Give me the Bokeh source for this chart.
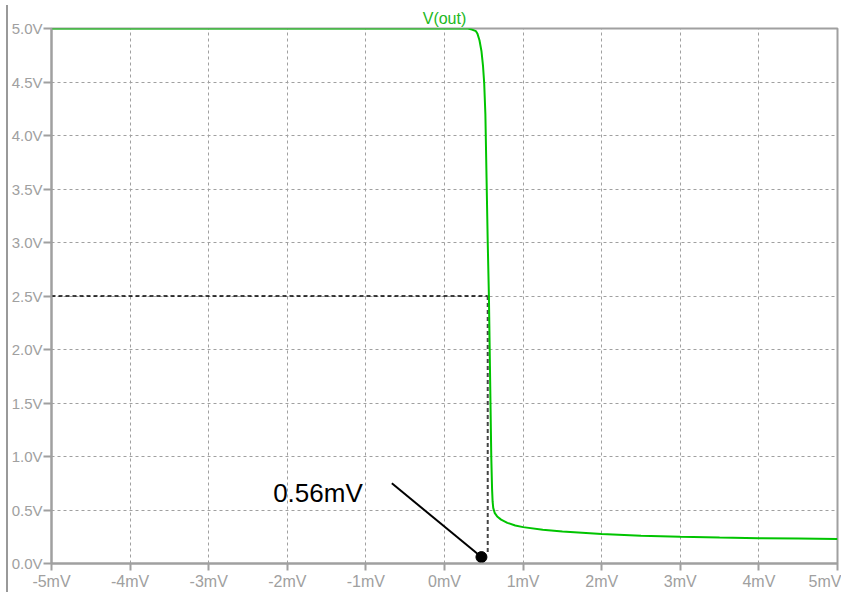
from bokeh.plotting import figure
from bokeh.models import Range1d, FixedTicker, Label
from bokeh.embed import file_html
from bokeh.resources import INLINE

# ---- data ----
vin_mv = [-5.0, -2.0, 0.0, 0.30, 0.35, 0.40, 0.42, 0.445, 0.47, 0.49, 0.505, 0.52,
          0.535, 0.55, 0.565, 0.575, 0.585, 0.595, 0.605, 0.612, 0.62, 0.64, 0.67,
          0.72, 0.80, 0.90, 1.0, 1.25, 1.5, 2.0, 2.5, 3.0, 3.5, 4.0, 4.5, 5.0]
vout_v = [5.0, 5.0, 5.0, 5.0, 4.99, 4.975, 4.95, 4.89, 4.79, 4.65, 4.49, 4.2,
          3.6, 3.0, 2.5, 2.0, 1.5, 1.0, 0.7, 0.58, 0.52, 0.47, 0.44,
          0.41, 0.38, 0.355, 0.34, 0.315, 0.30, 0.275, 0.26, 0.25, 0.243, 0.237, 0.233, 0.23]

x_ticks = [-5, -4, -3, -2, -1, 0, 1, 2, 3, 4, 5]
x_labels = ["-5mV", "-4mV", "-3mV", "-2mV", "-1mV", "0mV", "1mV", "2mV", "3mV", "4mV", "5mV"]
y_ticks = [0.0, 0.5, 1.0, 1.5, 2.0, 2.5, 3.0, 3.5, 4.0, 4.5, 5.0]
y_labels = ["0.0V", "0.5V", "1.0V", "1.5V", "2.0V", "2.5V", "3.0V", "3.5V", "4.0V", "4.5V", "5.0V"]

trace_name = "V(out)"
half_level = 2.5
cross_mv = 0.55
marker_x = [0.47]
marker_y = [0.06]
pointer_x = [-0.67, 0.47]
pointer_y = [0.75, 0.06]
note_text = "0.56mV"
note_x = -2.18
note_y = 0.66

GRAY = "#a0a0a0"
GREEN = "#00c400"
FONT = "Liberation Sans"

p = figure(frame_width=786, frame_height=535, output_backend="svg",
           toolbar_location=None,
           x_range=Range1d(-5, 5), y_range=Range1d(0, 5),
           min_border_left=39, min_border_right=4, min_border_top=20, min_border_bottom=5,
           background_fill_color="white", border_fill_color="white")
p.styles = {"border-left": "2px solid #999999", "margin-left": "6px", "margin-top": "5px"}

p.title.text = trace_name
p.title.align = "center"
p.title.text_color = "#22b822"
p.title.text_font = FONT
p.title.text_font_size = "16px"
p.title.text_font_style = "normal"
p.title.standoff = 4
p.title.offset = 0

p.outline_line_color = GRAY
p.outline_line_width = 2

for ax in (p.xaxis[0], p.yaxis[0]):
    ax.axis_line_color = GRAY
    ax.axis_line_width = 2
    ax.major_tick_line_color = GRAY
    ax.major_tick_line_width = 2
    ax.major_tick_in = 0
    ax.minor_tick_line_color = None
    ax.major_label_text_color = GRAY
    ax.major_label_text_font = FONT

p.xaxis.major_label_text_font_size = "16px"
p.yaxis.major_label_text_font_size = "15px"
p.xaxis.ticker = FixedTicker(ticks=x_ticks)
p.xaxis.major_label_overrides = {t: l for t, l in zip(x_ticks, x_labels)}
p.xaxis.major_tick_out = 7
p.xaxis.major_label_standoff = 2
p.yaxis.ticker = FixedTicker(ticks=y_ticks)
p.yaxis.major_label_overrides = {t: l for t, l in zip(y_ticks, y_labels)}
p.yaxis.major_tick_out = 8
p.yaxis.major_label_standoff = 1

for g in (p.xgrid[0], p.ygrid[0]):
    g.ticker = FixedTicker(ticks=x_ticks if g is p.xgrid[0] else y_ticks)
    g.grid_line_color = GRAY
    g.grid_line_dash = "3 3"
    g.grid_line_width = 1

# dashed guides
p.line([-5, cross_mv], [half_level, half_level], line_color="black",
       line_dash="4 3", line_width=1.3)
p.line([cross_mv, cross_mv], [half_level, 0.09], line_color="#444444",
       line_dash="4 3", line_width=2)

# curve
p.line(vin_mv, vout_v, line_color=GREEN, line_width=2)

# pointer
p.line(pointer_x, pointer_y, line_color="black", line_width=2)
p.scatter(marker_x, marker_y, size=11, color="black")

p.add_layout(Label(x=note_x, y=note_y, text=note_text, text_font=FONT,
                   text_font_size="26px", text_color="black",
                   text_baseline="alphabetic"))

open("out.html", "w").write(file_html(p, INLINE))
